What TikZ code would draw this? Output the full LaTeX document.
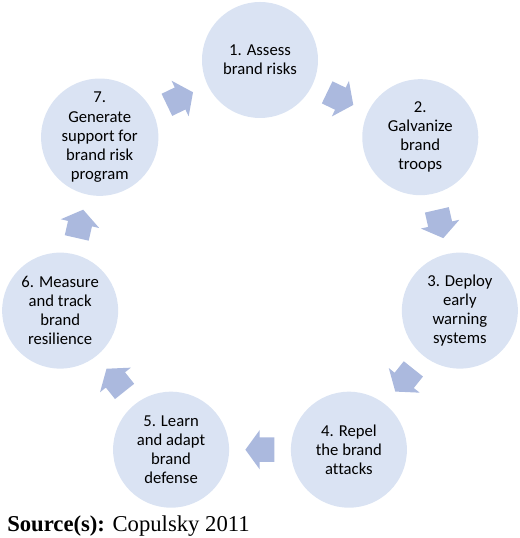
\documentclass[tikz,border=0pt]{standalone}
\usepackage{fontspec}
\setmainfont[Ligatures=NoCommon]{Carlito}
\newfontfamily\srcfont{Liberation Serif}
\usetikzlibrary{shapes.arrows,calc}
\definecolor{stagefill}{HTML}{DAE3F3}
\definecolor{arrowfill}{HTML}{ABB9DE}
\tikzset{
  stage/.style={circle, fill=stagefill, minimum size=87pt, inner sep=0pt, align=center, font=\fontsize{12.5}{14.3}\selectfont},
  flowarrow/.style={single arrow, fill=arrowfill, inner xsep=0pt, inner ysep=9pt, minimum height=21.75pt, single arrow head extend=5.6pt, single arrow tip angle=108, anchor=tail}
}
\begin{document}
\begin{tikzpicture}[x=0.75pt,y=0.75pt]
\useasboundingbox (-260,-273) rectangle (260,265);
\node[stage] (s1) at (90:205) {1. Assess\\brand risks};
\node[stage] (s2) at (38.57:205) {2.\\Galvanize\\brand\\troops};
\node[stage] (s3) at (-12.86:205) {3. Deploy\\early\\warning\\systems};
\node[stage] (s4) at (-64.29:205) {4. Repel\\the brand\\attacks};
\node[stage] (s5) at (-115.71:205) {5. Learn\\and adapt\\brand\\defense};
\node[stage] (s6) at (-167.14:205) {6. Measure\\and track\\brand\\resilience};
\node[stage] (s7) at (141.43:205) {7.\\Generate\\support for\\brand risk\\program};
\node[flowarrow, rotate=-25.71] (a12) at ($(s1)!0.5!(s2)!11pt!(s1)$) {};
\node[flowarrow, rotate=-77.14] (a23) at ($(s2)!0.5!(s3)!11pt!(s2)$) {};
\node[flowarrow, rotate=-128.57] (a34) at ($(s3)!0.5!(s4)!11pt!(s3)$) {};
\node[flowarrow, rotate=180] (a45) at ($(s4)!0.5!(s5)!11pt!(s4)$) {};
\node[flowarrow, rotate=128.57] (a56) at ($(s5)!0.5!(s6)!11pt!(s5)$) {};
\node[flowarrow, rotate=77.14] (a67) at ($(s6)!0.5!(s7)!11pt!(s6)$) {};
\node[flowarrow, rotate=25.71] (a71) at ($(s7)!0.5!(s1)!11pt!(s7)$) {};
\node[anchor=base west, inner sep=0pt, font=\srcfont\fontsize{17}{20}\selectfont] (src) at (-253,-266) {\textbf{Source(s):} Copulsky 2011};
\end{tikzpicture}
\end{document}
